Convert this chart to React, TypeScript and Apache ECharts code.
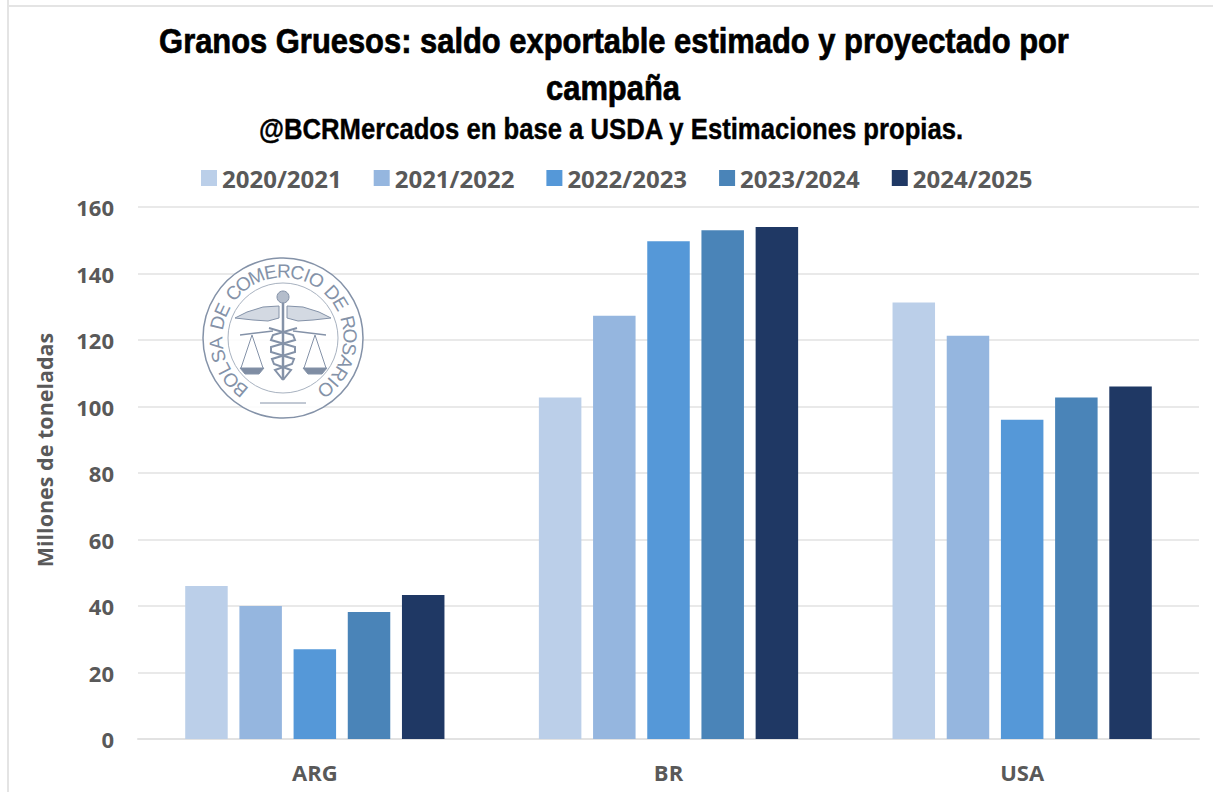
import React, { useEffect, useRef } from "react";
import * as echarts from "echarts";

const categories = ["ARG", "BR", "USA"];
const campaigns = ["2020/2021", "2021/2022", "2022/2023", "2023/2024", "2024/2025"];
const s2021 = [46, 102.7, 131.3];
const s2122 = [40, 127.3, 121.3];
const s2223 = [27, 149.7, 96];
const s2324 = [38.2, 153, 102.7];
const s2425 = [43.3, 154, 106];
const colors = ["#BBCFE9", "#95B6DF", "#5598D8", "#4A84B8", "#1F3864"];
const seriesValues = [s2021, s2122, s2223, s2324, s2425];

const FONT = "'Open Sans', 'Noto Sans', sans-serif";
const HEAD = "'Liberation Sans', sans-serif";
const SEAL = "BOLSA DE COMERCIO DE ROSARIO";
const INK = "#8492a8";

export default function App() {
  const ref = useRef<HTMLDivElement>(null);
  useEffect(() => {
    const chart = echarts.init(ref.current!, null, { renderer: "svg" });
    const cx = 283, cy = 338;
    const widthOf = (c: string) => (c === "I" ? 0.42 : c === " " ? 0.42 : c === "M" ? 0.95 : 0.78);
    const units = SEAL.split("").map(widthOf);
    const total = units.reduce((a, b) => a + b, 0);
    let used = 0;
    const sealChars = SEAL.split("").map((ch, i) => {
      const mid = used + units[i] / 2;
      used += units[i];
      const t = (-146 + (mid / total) * 292) * (Math.PI / 180);
      const r = 67;
      return {
        type: "text",
        x: cx + r * Math.sin(t),
        y: cy - r * Math.cos(t),
        rotation: -t,
        style: { text: ch, fontSize: 19, fontFamily: HEAD, fill: INK, align: "center", verticalAlign: "middle" },
        z: 1, silent: true,
      };
    });
    const line = (x1: number, y1: number, x2: number, y2: number, w = 1.5) => ({
      type: "line", shape: { x1: cx + x1, y1: cy + y1, x2: cx + x2, y2: cy + y2 },
      style: { stroke: INK, lineWidth: w }, z: 1, silent: true,
    });
    const poly = (pts: number[][], fill = "none", w = 1) => ({
      type: fill === "none" ? "polyline" : "polygon",
      shape: { points: pts.map(([x, y]) => [cx + x, cy + y]) },
      style: { stroke: INK, fill, lineWidth: w }, z: 1, silent: true,
    });
    const emblem = [
      line(0, -40, 0, 42, 2.5),
      { type: "circle", shape: { cx, cy: cy - 41, r: 6 }, style: { fill: "#b4bdcb", stroke: INK, lineWidth: 1 }, z: 1, silent: true },
      poly([[-4, -32], [-20, -31], [-36, -26], [-48, -20], [-30, -18], [-15, -17], [-4, -20]], "#d3d9e2"),
      poly([[4, -32], [20, -31], [36, -26], [48, -20], [30, -18], [15, -17], [4, -20]], "#d3d9e2"),
      line(-43, -3, -10, -7, 1.5), line(43, -3, 10, -7, 1.5),
      poly([[-31, -3], [-42, 30]]), poly([[-31, -3], [-20, 30]]),
      poly([[32, -3], [43, 30]]), poly([[32, -3], [21, 30]]),
      poly([[-43, 30], [-19, 30], [-24, 36], [-38, 36]], "#7f8da3"),
      poly([[44, 30], [20, 30], [25, 36], [39, 36]], "#7f8da3"),
      poly([[-14, -10], [10, -3], [12, 2], [-12, 9], [-12, 14], [11, 21], [9, 26], [-8, 32], [0, 42]], "none", 2),
      poly([[14, -10], [-10, -3], [-12, 2], [12, 9], [12, 14], [-11, 21], [-9, 26], [8, 32], [0, 42]], "none", 2),
      line(-23, 65, 23, 65, 1),
    ];
    chart.setOption({
      animation: false,
      backgroundColor: "#fff",
      legend: {
        data: campaigns, top: 161, left: 196, itemWidth: 16, itemHeight: 16, itemGap: 32, icon: "rect",
        textStyle: { fontFamily: FONT, fontSize: 24, fontWeight: "bold", color: "#595959" },
      },
      grid: { left: 138, right: 14, top: 207, bottom: 53 },
      xAxis: {
        type: "category", data: categories,
        axisTick: { show: false },
        axisLine: { lineStyle: { color: "#E2E2E2", width: 2 } },
        axisLabel: { fontFamily: FONT, fontSize: 22, fontWeight: "bold", color: "#595959", margin: 22 },
      },
      yAxis: {
        type: "value", min: 0, max: 160, interval: 20,
        name: "Millones de toneladas", nameLocation: "middle", nameGap: 83,
        nameTextStyle: { fontFamily: FONT, fontSize: 21.5, fontWeight: "bold", color: "#595959", padding: [0, 0, 0, 46] },
        axisLabel: { fontFamily: FONT, fontSize: 22, fontWeight: "bold", color: "#595959", margin: 24, padding: [0, 0, 6, 0] },
        splitLine: { lineStyle: { color: "#E9E9E9", width: 2 } },
      },
      series: seriesValues.map((d, i) => ({
        name: campaigns[i], type: "bar", data: d, barWidth: 42.5, barGap: "27.5%",
        itemStyle: { color: colors[i] }, z: 3,
      })),
      graphic: { elements: [
        { type: "text", x: 614, y: 41, scaleX: 0.883, style: { text: "Granos Gruesos: saldo exportable estimado y proyectado por", fontFamily: HEAD, fontSize: 35, fontWeight: "bold", fill: "#000", stroke: "#000", lineWidth: 0.7, align: "center", verticalAlign: "middle" } },
        { type: "text", x: 613, y: 88, scaleX: 0.883, style: { text: "campaña", fontFamily: HEAD, fontSize: 35, fontWeight: "bold", fill: "#000", stroke: "#000", lineWidth: 0.7, align: "center", verticalAlign: "middle" } },
        { type: "text", x: 611, y: 129, scaleX: 0.885, style: { text: "@BCRMercados en base a USDA y Estimaciones propias.", fontFamily: HEAD, fontSize: 29, fontWeight: "bold", fill: "#000", stroke: "#000", lineWidth: 0.4, align: "center", verticalAlign: "middle" } },
        { type: "rect", shape: { x: 7, y: 0, width: 2, height: 792 }, style: { fill: "#E4E4E4" }, silent: true },
        { type: "rect", shape: { x: 7, y: 5, width: 1206, height: 2 }, style: { fill: "#E4E4E4" }, silent: true },
        { type: "circle", shape: { cx, cy, r: 80 }, style: { fill: "rgba(255,255,255,0.85)", stroke: INK, lineWidth: 1.5 }, z: 1, silent: true },
        { type: "circle", shape: { cx, cy, r: 55 }, style: { fill: "none", stroke: "#a8b2c0", lineWidth: 1 }, z: 1, silent: true },
        ...emblem,
        ...sealChars,
      ] },
    });
    return () => chart.dispose();
  }, []);
  return <div ref={ref} style={{ position: "absolute", left: 0, top: 0, width: 1213, height: 792 }} />;
}
